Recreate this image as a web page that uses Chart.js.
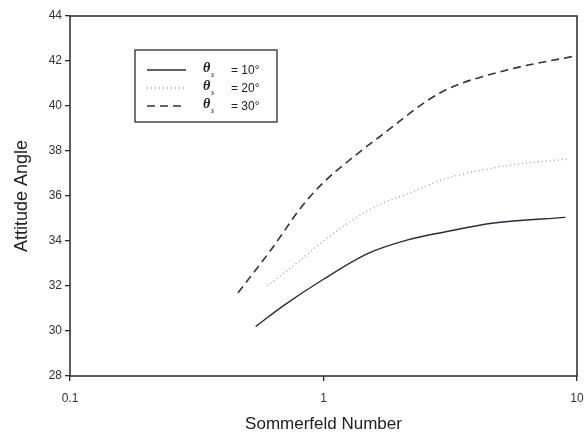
<!DOCTYPE html>
<html lang="en">
  <head>
    <meta charset="utf-8" />
    <title>Attitude Angle vs Sommerfeld Number</title>
    <style>
      * {
        margin: 0;
        padding: 0;
      }
      body {
        background: white;
      }
      .chartBox {
        width: 585px;
        height: 438px;
      }
    </style>
  </head>
  <body>
    <div class="chartBox">
      <canvas id="myChart" width="585" height="438"></canvas>
    </div>

    <script src="https://cdn.jsdelivr.net/npm/chart.js@4.4.1/dist/chart.umd.min.js"></script>

    <script>
      // data block
      const thetaLabels = ["= 10°", "= 20°", "= 30°"];

      const sommerfeld10 = [0.54, 0.7, 1, 1.5, 2.15, 3, 4.7, 9];
      const angle10 = [30.2, 31.15, 32.3, 33.45, 34.05, 34.4, 34.8, 35.05];

      const sommerfeld20 = [0.6, 0.8, 1, 1.25, 1.65, 2.15, 3, 5.3, 9.3];
      const angle20 = [32.0, 33.1, 34.0, 34.8, 35.6, 36.1, 36.75, 37.35, 37.65];

      const sommerfeld30 = [0.46, 0.62, 0.83, 1, 1.3, 1.65, 2.9, 5.3, 9.6];
      const angle30 = [31.7, 33.6, 35.6, 36.6, 37.7, 38.6, 40.6, 41.6, 42.2];

      const xTicks = [0.1, 1, 10];
      const yTicks = [28, 30, 32, 34, 36, 38, 40, 42, 44];

      const toPoints = (xs, ys) => xs.map((x, i) => ({ x: x, y: ys[i] }));

      const data = {
        datasets: [
          {
            label: thetaLabels[0],
            data: toPoints(sommerfeld10, angle10),
            borderColor: "#2b2b36",
            borderWidth: 1.4,
          },
          {
            label: thetaLabels[1],
            data: toPoints(sommerfeld20, angle20),
            borderColor: "#a8a8a8",
            borderWidth: 1.5,
            borderDash: [1, 3],
          },
          {
            label: thetaLabels[2],
            data: toPoints(sommerfeld30, angle30),
            borderColor: "#333338",
            borderWidth: 1.6,
            borderDash: [8, 5],
          },
        ],
      };

      // frame + legend block
      const frameLegend = {
        id: "frameLegend",
        afterDatasetsDraw(chart) {
          const { ctx, chartArea, data } = chart;
          ctx.save();
          ctx.strokeStyle = "#2a2a2a";
          ctx.lineWidth = 1.5;
          ctx.strokeRect(
            chartArea.left,
            chartArea.top,
            chartArea.right - chartArea.left,
            chartArea.bottom - chartArea.top
          );

          // legend box
          ctx.lineWidth = 1.3;
          ctx.strokeRect(135, 50, 142, 72);
          const rows = [70, 88, 106];
          for (let i = 0; i < data.datasets.length; i++) {
            const ds = data.datasets[i];
            ctx.beginPath();
            ctx.setLineDash(ds.borderDash || []);
            ctx.strokeStyle = ds.borderColor;
            ctx.lineWidth = ds.borderWidth;
            ctx.moveTo(147, rows[i]);
            ctx.lineTo(186, rows[i]);
            ctx.stroke();
            ctx.setLineDash([]);

            ctx.fillStyle = "#222";
            ctx.textBaseline = "middle";
            ctx.textAlign = "left";
            ctx.font = "italic bold 14px 'Liberation Serif'";
            ctx.fillText("θ", 203, rows[i] - 2);
            ctx.font = "italic 8px 'Liberation Serif'";
            ctx.fillText("s", 211, rows[i] + 5);
            ctx.font = "12px 'Liberation Sans'";
            ctx.fillText(ds.label, 231, rows[i] + 1);
          }
          ctx.restore();
        },
      };

      // config block
      const config = {
        type: "line",
        data: data,
        options: {
          responsive: false,
          animation: false,
          cubicInterpolationMode: "monotone",
          pointRadius: 0,
          layout: {
            padding: { left: 0, top: 16, right: 8, bottom: 0 },
          },
          scales: {
            x: {
              type: "logarithmic",
              min: 0.1,
              max: 10,
              afterBuildTicks: (axis) => {
                axis.ticks = xTicks.map((v) => ({ value: v }));
              },
              afterFit: (axis) => {
                axis.height = 62;
                axis.paddingLeft = 0;
                axis.paddingRight = 0;
              },
              border: { display: false },
              grid: {
                drawOnChartArea: false,
                drawTicks: true,
                tickLength: 5,
                color: "#2a2a2a",
                lineWidth: 1.3,
              },
              ticks: {
                autoSkip: false,
                maxRotation: 0,
                padding: 10,
                color: "#333",
                font: { family: "'Liberation Sans'", size: 12 },
                callback: (v) => String(v),
              },
              title: {
                display: true,
                text: "Sommerfeld Number",
                color: "#222",
                font: { family: "'Liberation Sans'", size: 17 },
                padding: { top: 0, bottom: 3 },
              },
            },
            y: {
              min: 28,
              max: 44,
              afterBuildTicks: (axis) => {
                axis.ticks = yTicks.map((v) => ({ value: v }));
              },
              afterFit: (axis) => {
                axis.width = 70;
                axis.paddingTop = 0;
                axis.paddingBottom = 0;
              },
              border: { display: false },
              grid: {
                drawOnChartArea: false,
                drawTicks: true,
                tickLength: 5,
                color: "#2a2a2a",
                lineWidth: 1.3,
              },
              ticks: {
                padding: 3,
                color: "#333",
                font: { family: "'Liberation Sans'", size: 12 },
              },
              title: {
                display: true,
                text: "Attitude Angle",
                color: "#222",
                font: { family: "'Liberation Sans'", size: 18 },
                padding: { top: 11, bottom: 0 },
              },
            },
          },
          plugins: {
            legend: { display: false },
            tooltip: { enabled: false },
          },
        },
        plugins: [frameLegend],
      };

      // init render block
      const myChart = new Chart(document.getElementById("myChart"), config);
    </script>
  </body>
</html>
